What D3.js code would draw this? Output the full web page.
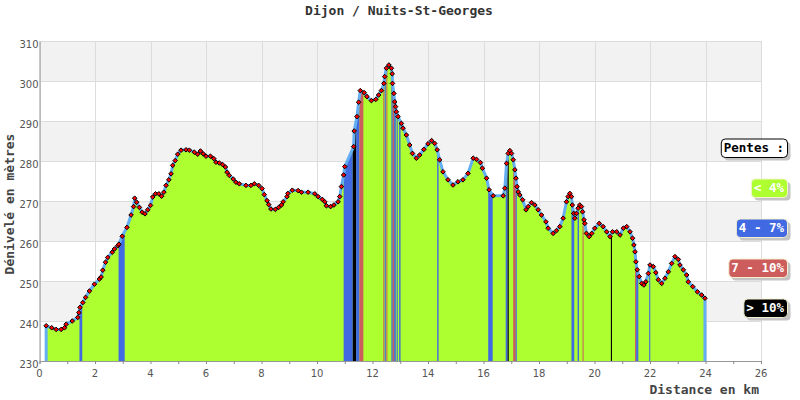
<!DOCTYPE html>
<html><head><meta charset="utf-8">
<script src="https://cdn.jsdelivr.net/npm/d3@7"></script>
<style>body{margin:0;background:#fff}</style>
</head><body>
<svg id="c" width="800" height="400"></svg>
<script>
const title = "Dijon / Nuits-St-Georges";
const yTitle = "Dénivelé en mètres";
const xTitle = "Distance en km";
const xTicks = [0,2,4,6,8,10,12,14,16,18,20,22,24,26];
const yTicks = [230,240,250,260,270,280,290,300,310];
const dist = [0.24,0.44,0.6,0.78,0.9,0.96,1.18,1.38,1.42,1.46,1.56,1.66,1.8,1.98,2.16,2.22,2.28,2.38,2.46,2.62,2.7,2.82,2.86,2.98,3.15,3.3,3.39,3.43,3.5,3.6,3.7,3.8,3.9,4.0,4.08,4.18,4.3,4.4,4.48,4.56,4.66,4.74,4.8,4.89,4.98,5.1,5.28,5.4,5.58,5.7,5.8,5.9,6.0,6.16,6.28,6.36,6.48,6.6,6.7,6.76,6.84,6.98,7.08,7.2,7.44,7.62,7.74,7.9,8.02,8.1,8.2,8.26,8.34,8.5,8.62,8.72,8.78,8.92,8.95,9.11,9.32,9.44,9.68,9.92,10.04,10.19,10.28,10.34,10.49,10.61,10.76,10.82,10.88,10.96,11.0,11.32,11.34,11.44,11.5,11.56,11.7,11.8,11.96,12.12,12.22,12.32,12.41,12.44,12.5,12.59,12.68,12.71,12.72,12.77,12.8,12.83,12.86,12.92,13.04,13.1,13.22,13.34,13.44,13.58,13.7,13.85,14.0,14.13,14.24,14.33,14.42,14.54,14.72,14.9,15.08,15.26,15.44,15.63,15.75,15.89,15.96,16.11,16.2,16.35,16.71,16.77,16.83,16.89,16.95,17.01,17.07,17.13,17.17,17.21,17.25,17.31,17.41,17.53,17.61,17.73,17.85,17.97,18.09,18.25,18.33,18.51,18.63,18.75,18.87,18.99,19.05,19.11,19.17,19.2,19.25,19.29,19.35,19.41,19.47,19.53,19.57,19.62,19.65,19.71,19.81,19.9,20.01,20.17,20.31,20.44,20.56,20.65,20.8,20.92,21.04,21.16,21.28,21.37,21.42,21.46,21.49,21.54,21.61,21.7,21.78,21.85,21.94,22.0,22.12,22.21,22.3,22.42,22.54,22.66,22.78,22.9,23.02,23.08,23.2,23.32,23.38,23.54,23.71,23.86,23.98];
const elev = [238.8,238.3,237.9,237.9,238.3,239.2,240.0,240.9,242.1,243.4,244.6,245.9,247.5,249.2,250.5,251.0,252.7,254.7,255.9,257.2,258.0,258.8,259.2,261.2,263.4,266.5,268.6,270.7,269.7,268.4,267.2,266.8,267.8,268.9,271.0,271.8,271.8,271.2,272.2,273.9,275.3,276.8,278.9,280.1,281.7,282.7,282.8,282.7,282.2,281.7,282.5,281.8,281.2,281.2,280.6,279.7,279.5,279.1,278.5,277.2,276.4,275.5,274.7,274.3,273.9,273.9,274.3,273.9,273.1,271.6,270.1,269.1,268.0,267.9,268.4,269.0,269.8,271.1,271.9,272.7,272.6,272.2,272.2,271.8,271.1,270.4,269.8,268.8,268.6,269.0,269.8,271.1,273.6,276.5,278.6,283.6,287.5,291.1,294.7,297.6,297.1,296.1,295.1,295.4,296.5,297.6,299.4,301.1,303.2,304.0,303.2,301.8,299.4,296.9,294.8,293.6,292.3,291.1,289.4,288.2,286.5,284.0,281.9,280.7,281.5,282.9,284.3,285.1,284.4,282.8,280.3,277.3,275.3,274.0,274.8,275.3,276.9,280.7,280.4,279.6,278.2,275.7,272.8,271.3,271.3,273.2,279.4,281.9,282.6,281.9,280.3,277.8,275.7,273.6,272.3,271.5,270.3,267.8,268.6,269.6,269.0,267.8,266.5,264.8,263.2,261.9,262.6,263.6,265.7,269.8,271.1,271.9,271.1,269.0,266.9,265.7,266.9,268.2,269.0,268.6,267.3,265.3,264.4,261.9,261.1,261.9,263.2,264.4,263.6,262.3,261.1,262.3,262.3,261.5,263.2,263.6,262.3,260.7,259.0,257.3,254.8,252.8,251.1,249.4,249.0,249.8,251.9,254.0,253.6,252.1,250.3,249.4,250.7,252.3,254.4,256.1,255.4,254.0,252.8,251.5,249.8,248.6,247.3,246.5,245.7];
// slope strips: [start km, end km, category index]
const slopeStrips = [[1.44,1.54,1],[2.85,3.07,1],[10.96,11.29,1],[11.29,11.41,3],[11.41,11.53,1],[11.53,11.67,2],[12.39,12.42,2],[12.44,12.48,1],[12.5,12.53,2],[12.68,12.73,1],[12.73,12.78,2],[12.78,12.84,1],[12.87,12.91,1],[12.96,13.01,1],[14.33,14.38,1],[16.17,16.33,1],[16.8,16.87,1],[16.87,16.91,3],[17.07,17.16,2],[17.16,17.2,1],[19.17,19.27,1],[19.39,19.44,1],[19.57,19.6,2],[20.59,20.63,3],[21.46,21.5,2],[21.5,21.58,1],[21.97,22.01,1]];
const legendTitle = "Pentes :";
const legendLabels = ["< 4%","4 - 7%","7 - 10%","> 10%"];
const slopeColors = ["#adff2f","#4169e1","#cd5c5c","#000000"];

const svg = d3.select("#c");
const L = 39.5, R = 761, T = 41, B = 361;
const x = d3.scaleLinear().domain([0,26]).range([L,R]);
const y = d3.scaleLinear().domain([230,310]).range([B,T]);
const pts = dist.map((d,i)=>({d, e: elev[i]}));
const mono = "'DejaVu Sans Mono', monospace";

// background bands
const bands = yTicks.slice(0,-1).filter((v,i)=> i%2===1);
svg.append("g").selectAll("rect").data(bands).join("rect")
  .attr("x", L).attr("width", R-L)
  .attr("y", d=>y(d+10)).attr("height", d=>y(d)-y(d+10))
  .attr("fill","#f2f2f2");
// grid
const grid = svg.append("g").attr("stroke","#dcdcdc").attr("stroke-width",1);
grid.selectAll(".h").data(yTicks).join("line").attr("class","h")
  .attr("x1",L).attr("x2",R).attr("y1",d=>Math.round(y(d))+0.5).attr("y2",d=>Math.round(y(d))+0.5);
grid.selectAll(".v").data(xTicks).join("line").attr("class","v")
  .attr("y1",T).attr("y2",B).attr("x1",d=>Math.round(x(d))+0.5).attr("x2",d=>Math.round(x(d))+0.5);

// area
const area = d3.area().x(p=>x(p.d)).y0(y(230)).y1(p=>y(p.e));
const defs = svg.append("defs");
defs.append("clipPath").attr("id","clipA").append("path").attr("d", area(pts));
svg.append("path").attr("d", area(pts)).attr("fill", slopeColors[0]);
svg.append("g").attr("clip-path","url(#clipA)").selectAll("rect").data(slopeStrips).join("rect")
  .attr("x", s=>x(s[0])).attr("width", s=>Math.max(1, x(s[1])-x(s[0])))
  .attr("y", T).attr("height", B-T)
  .attr("fill", s=>slopeColors[s[2]]);
// outline
const outline = [{d:dist[0],e:230}].concat(pts, [{d:dist[dist.length-1],e:230}]);
svg.append("path").attr("d", d3.line().x(p=>x(p.d)).y(p=>y(p.e))(outline))
  .attr("fill","none").attr("stroke","#64aef2").attr("stroke-width",3).attr("stroke-linejoin","round");

// markers
const ds = 2.3;
svg.append("g").selectAll("path").data(pts).join("path")
  .attr("transform", p=>`translate(${x(p.d)},${y(p.e)})`)
  .attr("d", `M0,${-ds}L${ds},0L0,${ds}L${-ds},0Z`)
  .attr("fill","#ff0000").attr("stroke","#000").attr("stroke-width",1);

// axes
const xAxis = svg.append("g").attr("transform",`translate(0,${B})`)
  .call(d3.axisBottom(x).tickValues(d3.range(0,27,1)).tickSize(3).tickFormat(""));
xAxis.select(".domain").attr("stroke","#999");
xAxis.selectAll(".tick line").attr("stroke","#888");
svg.append("g").selectAll("text").data(xTicks).join("text")
  .attr("x", d=>x(d)).attr("y", B+16).attr("text-anchor","middle")
  .attr("font-family","'DejaVu Sans', sans-serif").attr("font-size",10).attr("fill","#555")
  .text(d=>d);
const yAxis = svg.append("g").attr("transform",`translate(${L},0)`)
  .call(d3.axisLeft(y).tickValues(yTicks).tickSize(0).tickFormat(""));
yAxis.select(".domain").attr("stroke","#999");
svg.append("g").selectAll("text").data(yTicks).join("text")
  .attr("x", L-1).attr("y", d=>y(d)+7).attr("text-anchor","end")
  .attr("font-family","'DejaVu Sans', sans-serif").attr("font-size",10).attr("fill","#555")
  .text(d=>d);

// titles
svg.append("text").attr("x",399).attr("y",15).attr("text-anchor","middle")
  .attr("font-family",mono).attr("font-weight","bold").attr("font-size",13).attr("fill","#333").text(title);
svg.append("text").attr("transform","translate(14,204) rotate(-90)").attr("text-anchor","middle")
  .attr("font-family",mono).attr("font-weight","bold").attr("font-size",13).attr("fill","#444").text(yTitle);
svg.append("text").attr("x",759).attr("y",394).attr("text-anchor","end")
  .attr("font-family",mono).attr("font-weight","bold").attr("font-size",13).attr("fill","#444").text(xTitle);

// legend
const legItems = [{t:legendTitle, fill:"#fff", tc:"#000", st:"#000"}]
  .concat(legendLabels.map((t,i)=>({t, fill:slopeColors[i], tc:"#fff", st:"#f5f0d0"})));
const lx = 787.5;
legItems.forEach((it,i)=>{
  const yc = 148 + i*40;
  const g = svg.append("g");
  const sh = g.append("rect");
  const bx = g.append("rect");
  const tx = g.append("text").attr("x", lx-3.5).attr("y", yc+4.3).attr("text-anchor","end")
    .attr("font-family",mono).attr("font-weight","bold").attr("font-size",12.5).attr("fill",it.tc).text(it.t);
  const w = tx.node().getComputedTextLength() + 6;
  sh.attr("x", lx-w+3).attr("y", yc-9+3).attr("width", w).attr("height",18.5).attr("rx",4).attr("fill","#c4c4c4");
  bx.attr("x", lx-w).attr("y", yc-9).attr("width", w).attr("height",18.5).attr("rx",4)
    .attr("fill",it.fill).attr("stroke",it.st).attr("stroke-width",1);
});
</script>
</body></html>
